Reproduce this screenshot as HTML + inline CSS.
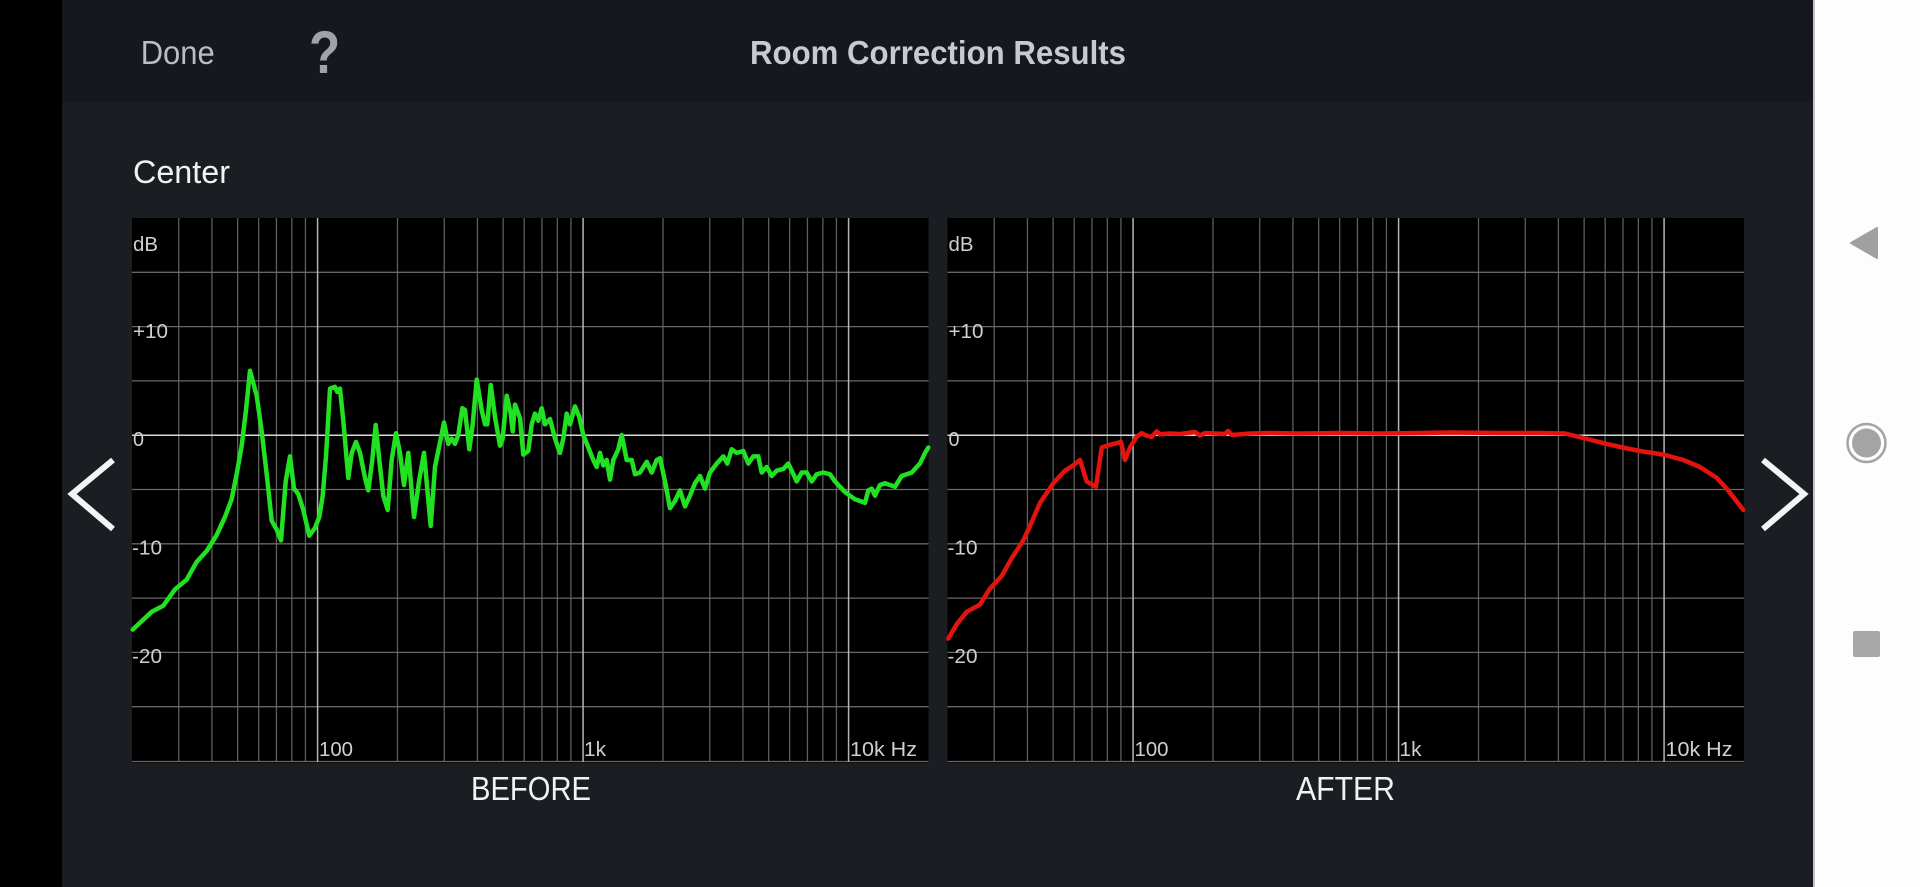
<!DOCTYPE html>
<html>
<head>
<meta charset="utf-8">
<style>
  html,body{margin:0;padding:0;background:#000;width:1920px;height:887px;overflow:hidden;}
  svg{display:block;}
  text{font-family:"Liberation Sans", sans-serif;}
</style>
</head>
<body>
<svg width="1920" height="887" viewBox="0 0 1920 887" xmlns="http://www.w3.org/2000/svg">
  <!-- backgrounds -->
  <rect x="0" y="0" width="1920" height="887" fill="#000"/>
  <rect x="62" y="0" width="1751" height="887" fill="#1a1d21"/>
  <rect x="62" y="0" width="1751" height="102" fill="#15181c"/>
  <rect x="1813" y="0" width="107" height="887" fill="#fdfdfd"/>
  <rect x="1813" y="0" width="2" height="887" fill="#c4c4c4"/>

  <!-- header -->
  <text x="140.7" y="64" font-size="33" fill="#b9bdc5" textLength="74" lengthAdjust="spacingAndGlyphs">Done</text>
  <text transform="translate(309,73) scale(0.85,1)" font-size="60" font-weight="bold" fill="#9fa3a9">?</text>
  <text x="750" y="64" font-size="33" font-weight="bold" fill="#c6cbd3" textLength="376" lengthAdjust="spacingAndGlyphs">Room Correction Results</text>

  <text x="133" y="183" font-size="32" fill="#f2f2f2" textLength="97" lengthAdjust="spacingAndGlyphs">Center</text>

  <!-- CHART 1 -->
  <g transform="translate(132,0)">
    <rect x="0" y="218" width="796.5" height="545" fill="#000"/>
    <g stroke="#5e5e5e" stroke-width="1.3">
      <line x1="46.75" y1="218" x2="46.75" y2="762"/>
      <line x1="79.92" y1="218" x2="79.92" y2="762"/>
      <line x1="105.65" y1="218" x2="105.65" y2="762"/>
      <line x1="126.68" y1="218" x2="126.68" y2="762"/>
      <line x1="144.45" y1="218" x2="144.45" y2="762"/>
      <line x1="159.85" y1="218" x2="159.85" y2="762"/>
      <line x1="173.43" y1="218" x2="173.43" y2="762"/>
      <line x1="265.5" y1="218" x2="265.5" y2="762"/>
      <line x1="312.25" y1="218" x2="312.25" y2="762"/>
      <line x1="345.42" y1="218" x2="345.42" y2="762"/>
      <line x1="371.15" y1="218" x2="371.15" y2="762"/>
      <line x1="392.18" y1="218" x2="392.18" y2="762"/>
      <line x1="409.95" y1="218" x2="409.95" y2="762"/>
      <line x1="425.35" y1="218" x2="425.35" y2="762"/>
      <line x1="438.93" y1="218" x2="438.93" y2="762"/>
      <line x1="531" y1="218" x2="531" y2="762"/>
      <line x1="577.75" y1="218" x2="577.75" y2="762"/>
      <line x1="610.92" y1="218" x2="610.92" y2="762"/>
      <line x1="636.65" y1="218" x2="636.65" y2="762"/>
      <line x1="657.68" y1="218" x2="657.68" y2="762"/>
      <line x1="675.45" y1="218" x2="675.45" y2="762"/>
      <line x1="690.85" y1="218" x2="690.85" y2="762"/>
      <line x1="704.43" y1="218" x2="704.43" y2="762"/>
    </g>
    <g stroke="#686868" stroke-width="1.3">
      <line x1="0" y1="272.3" x2="796.5" y2="272.3"/>
      <line x1="0" y1="326.6" x2="796.5" y2="326.6"/>
      <line x1="0" y1="380.9" x2="796.5" y2="380.9"/>
      <line x1="0" y1="489.5" x2="796.5" y2="489.5"/>
      <line x1="0" y1="543.8" x2="796.5" y2="543.8"/>
      <line x1="0" y1="598.1" x2="796.5" y2="598.1"/>
      <line x1="0" y1="652.4" x2="796.5" y2="652.4"/>
      <line x1="0" y1="706.7" x2="796.5" y2="706.7"/>
      <line x1="0" y1="761.5" x2="796.5" y2="761.5"/>
    </g>
    <g stroke="#b4b4b4" stroke-width="1.5">
      <line x1="185.58" y1="218" x2="185.58" y2="762"/>
      <line x1="451.08" y1="218" x2="451.08" y2="762"/>
      <line x1="716.58" y1="218" x2="716.58" y2="762"/>
    </g>
    <line x1="0" y1="435.2" x2="796.5" y2="435.2" stroke="#d8d8d8" stroke-width="1.5"/>
    <g font-size="20" fill="#cfcfcf">
      <text x="1" y="251" textLength="25" lengthAdjust="spacingAndGlyphs">dB</text>
      <text x="1" y="338" textLength="35" lengthAdjust="spacingAndGlyphs">+10</text>
      <text x="1" y="446" textLength="11" lengthAdjust="spacingAndGlyphs">0</text>
      <text x="0" y="554.6" textLength="30" lengthAdjust="spacingAndGlyphs">-10</text>
      <text x="0" y="663" textLength="30" lengthAdjust="spacingAndGlyphs">-20</text>
      <text x="187" y="756" textLength="34" lengthAdjust="spacingAndGlyphs">100</text>
      <text x="452" y="756" textLength="22" lengthAdjust="spacingAndGlyphs">1k</text>
      <text x="718" y="756" textLength="67" lengthAdjust="spacingAndGlyphs">10k Hz</text>
    </g>
  </g>
  <polyline fill="none" stroke="#22e022" stroke-width="4.5" stroke-linejoin="round" stroke-linecap="round"
    points="132.7,629.6 151.7,611.8 163.3,605.7 175,589.3 186.7,579.6 196.7,561.8 206.7,551 216.7,535 225,517 231.7,499 236.7,474 241.7,445.7 246,410 250,370.7 256.7,395.7 261.7,431.4 266.7,474.3 271.7,520.7 276.7,529.6 281,540.4 285.7,481.4 290,456.4 294,488.6 298.3,494 303.3,510 309.3,535.7 315,527.9 319.3,517 322.7,495.7 326,456.4 330,388.6 335,386.8 337.3,392 340,388.6 343.3,420.7 348.3,477.9 351.7,452.9 356,442 360,452.9 365,477.9 368.3,490.4 372.3,460 375.7,425 379.3,460 383.3,495.7 387.7,510 391.7,460 396,433.2 400,452.9 404,485 408.3,452.9 414,517 419,481.4 424,452.9 430.7,526 435,467 439.3,445.7 444,422.5 448.3,443.9 451.7,438.6 455,443.9 458.3,435 462.3,408.2 465,410 469.3,449.3 472.7,424.3 476.7,379.6 481.7,410 485,424.3 487.3,424.3 490.7,385 495,417 500,445.7 502.7,438.6 506.7,395.7 510.7,413.6 512.7,431.4 515,404.6 520,418 523.3,454.6 528.3,451 531.7,424.3 535,413.6 538.3,420.7 541.7,408.2 545,424.3 550,419 555,438.6 560,452.9 563.3,438.6 566.7,413.6 570,424.3 575,406.4 579.3,417 583.3,435 588.3,447.5 593.3,460 596.7,467 600,452.9 603.3,465.4 606.7,460 610,479.6 613.3,460 618.3,449.3 621.7,435 626.7,460 631.7,460 635,474.3 640,472.5 646.7,461.8 651.7,472.5 656.7,460 660,458.2 665,481.4 670,508.2 675,501 680,490.4 685,506.4 690,495.7 695,483.2 700,476 705,488.6 710,472.5 716.7,463.6 723.3,456.4 727.3,463.6 731.7,449.3 736.7,452.9 743.3,451 748.3,463.6 753.3,456.4 758.3,456.4 761.7,472.5 766.7,467 771.7,476 776.7,470.7 783.3,468.9 788.3,463.6 791.7,470.7 796.7,481.4 801.7,472.5 806.7,472.5 811.7,481.4 816.7,474.3 823.3,472.5 830,474.3 835,481.4 840,486.8 845,492.1 850,495.7 855,499.3 860,501 865,502.9 868.3,490.4 871.7,488.6 875,495.7 880,485 885,483.2 890,485 895,486.8 898.3,481.4 901.7,476 906.7,474.3 911.7,472.5 916.7,467 920,463.6 925,452.9 928.3,447.5"/>

  <!-- CHART 2 -->
  <g transform="translate(947.5,0)">
    <rect x="0" y="218" width="796.5" height="545" fill="#000"/>
    <g stroke="#5e5e5e" stroke-width="1.3">
      <line x1="46.75" y1="218" x2="46.75" y2="762"/>
      <line x1="79.92" y1="218" x2="79.92" y2="762"/>
      <line x1="105.65" y1="218" x2="105.65" y2="762"/>
      <line x1="126.68" y1="218" x2="126.68" y2="762"/>
      <line x1="144.45" y1="218" x2="144.45" y2="762"/>
      <line x1="159.85" y1="218" x2="159.85" y2="762"/>
      <line x1="173.43" y1="218" x2="173.43" y2="762"/>
      <line x1="265.5" y1="218" x2="265.5" y2="762"/>
      <line x1="312.25" y1="218" x2="312.25" y2="762"/>
      <line x1="345.42" y1="218" x2="345.42" y2="762"/>
      <line x1="371.15" y1="218" x2="371.15" y2="762"/>
      <line x1="392.18" y1="218" x2="392.18" y2="762"/>
      <line x1="409.95" y1="218" x2="409.95" y2="762"/>
      <line x1="425.35" y1="218" x2="425.35" y2="762"/>
      <line x1="438.93" y1="218" x2="438.93" y2="762"/>
      <line x1="531" y1="218" x2="531" y2="762"/>
      <line x1="577.75" y1="218" x2="577.75" y2="762"/>
      <line x1="610.92" y1="218" x2="610.92" y2="762"/>
      <line x1="636.65" y1="218" x2="636.65" y2="762"/>
      <line x1="657.68" y1="218" x2="657.68" y2="762"/>
      <line x1="675.45" y1="218" x2="675.45" y2="762"/>
      <line x1="690.85" y1="218" x2="690.85" y2="762"/>
      <line x1="704.43" y1="218" x2="704.43" y2="762"/>
    </g>
    <g stroke="#686868" stroke-width="1.3">
      <line x1="0" y1="272.3" x2="796.5" y2="272.3"/>
      <line x1="0" y1="326.6" x2="796.5" y2="326.6"/>
      <line x1="0" y1="380.9" x2="796.5" y2="380.9"/>
      <line x1="0" y1="489.5" x2="796.5" y2="489.5"/>
      <line x1="0" y1="543.8" x2="796.5" y2="543.8"/>
      <line x1="0" y1="598.1" x2="796.5" y2="598.1"/>
      <line x1="0" y1="652.4" x2="796.5" y2="652.4"/>
      <line x1="0" y1="706.7" x2="796.5" y2="706.7"/>
      <line x1="0" y1="761.5" x2="796.5" y2="761.5"/>
    </g>
    <g stroke="#b4b4b4" stroke-width="1.5">
      <line x1="185.58" y1="218" x2="185.58" y2="762"/>
      <line x1="451.08" y1="218" x2="451.08" y2="762"/>
      <line x1="716.58" y1="218" x2="716.58" y2="762"/>
    </g>
    <line x1="0" y1="435.2" x2="796.5" y2="435.2" stroke="#d8d8d8" stroke-width="1.5"/>
    <g font-size="20" fill="#cfcfcf">
      <text x="1" y="251" textLength="25" lengthAdjust="spacingAndGlyphs">dB</text>
      <text x="1" y="338" textLength="35" lengthAdjust="spacingAndGlyphs">+10</text>
      <text x="1" y="446" textLength="11" lengthAdjust="spacingAndGlyphs">0</text>
      <text x="0" y="554.6" textLength="30" lengthAdjust="spacingAndGlyphs">-10</text>
      <text x="0" y="663" textLength="30" lengthAdjust="spacingAndGlyphs">-20</text>
      <text x="187" y="756" textLength="34" lengthAdjust="spacingAndGlyphs">100</text>
      <text x="452" y="756" textLength="22" lengthAdjust="spacingAndGlyphs">1k</text>
      <text x="718" y="756" textLength="67" lengthAdjust="spacingAndGlyphs">10k Hz</text>
    </g>
  </g>
  <polyline fill="none" stroke="#e3140f" stroke-width="4.5" stroke-linejoin="round" stroke-linecap="round"
    points="948.3,638.6 956.7,624.3 966.7,611.8 980,604.6 990,588.6 1001.7,576 1011.7,558.2 1023.3,540.4 1030,526 1040,502.9 1053.3,483.2 1065,470.7 1073.3,465.4 1080,460 1086.7,481.4 1096,486.8 1101.7,447.5 1106.7,445.7 1121,442 1125,460 1130,447.5 1136.7,436.8 1141.7,433.2 1146.7,435.7 1151.7,436.8 1156.7,431.4 1160,434.3 1170,433.5 1180,434 1195,432 1200,435.5 1205,433 1225,434 1228,431 1232,435 1250,433.5 1270,433 1300,433.5 1340,433 1380,433.5 1420,433 1450,432.5 1500,433 1540,433 1565,433.5 1583.3,438 1606.7,443.9 1625,448 1640,451 1663.3,454.6 1683.3,460 1700,467 1716.7,477.9 1726.7,488.6 1735,499.3 1743.3,510"/>

  <!-- captions -->
  <text x="471" y="800" font-size="33" fill="#f2f2f2" textLength="120" lengthAdjust="spacingAndGlyphs">BEFORE</text>
  <text x="1296" y="800" font-size="33" fill="#f2f2f2" textLength="99" lengthAdjust="spacingAndGlyphs">AFTER</text>

  <!-- side arrows -->
  <polyline points="113,460 72,494 113,529" fill="none" stroke="#f4f4f4" stroke-width="6"/>
  <polyline points="1763,460 1804,494 1763,529" fill="none" stroke="#f4f4f4" stroke-width="6"/>

  <!-- android nav bar -->
  <polygon points="1851,243 1877,228 1877,258" fill="#a0a0a0" stroke="#a0a0a0" stroke-width="2" stroke-linejoin="round"/>
  <circle cx="1866.5" cy="443" r="19" fill="none" stroke="#a4a4a4" stroke-width="2.5"/>
  <circle cx="1866.5" cy="443" r="14.5" fill="#a4a4a4"/>
  <rect x="1853" y="631" width="27" height="26" rx="2" fill="#a8a8a8"/>
</svg>
</body>
</html>
